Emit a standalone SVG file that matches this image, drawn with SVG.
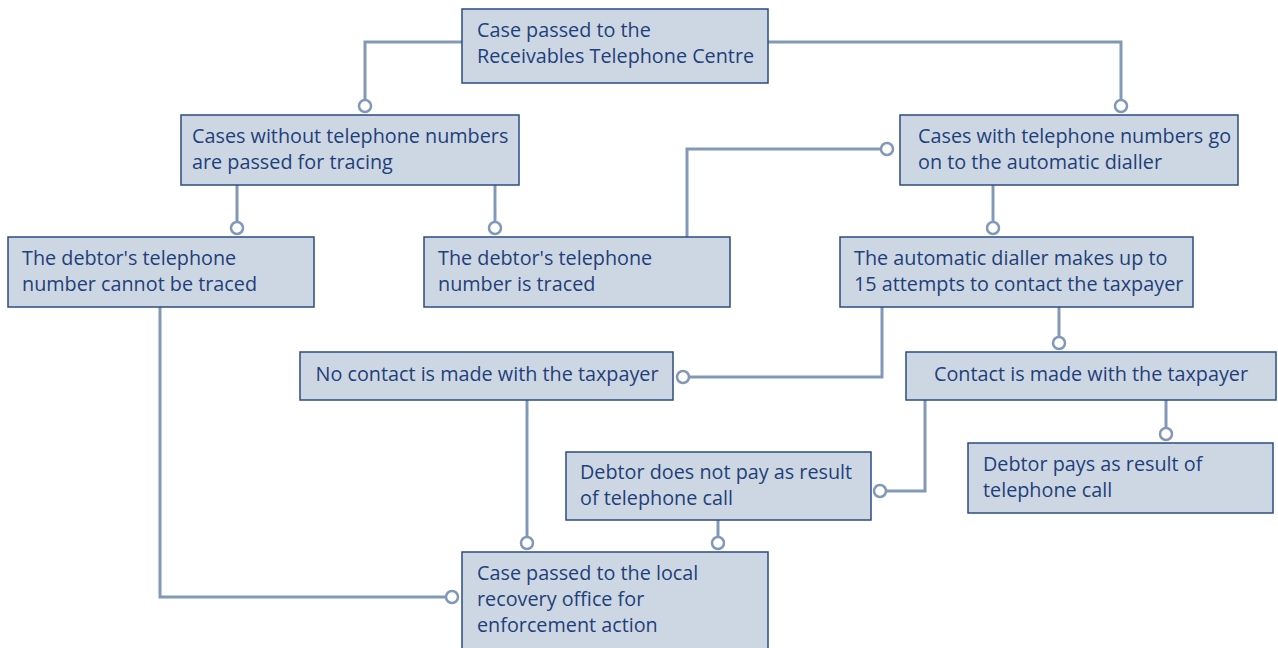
<svg xmlns="http://www.w3.org/2000/svg" width="1278" height="648" viewBox="0 0 1278 648">
<style>
.box{fill:#cdd7e3;stroke:#2c4b82;stroke-width:1.5}
.t{font-family:"Open Sans","Liberation Sans",Arial,sans-serif;font-size:19.8px;fill:#1f3f7a}
.c{text-anchor:middle}
.ln{fill:none;stroke:#8298b8;stroke-width:3}
.dot{fill:#ffffff;stroke:#8298b8;stroke-width:2.5}
</style>
<rect width="1278" height="648" fill="#ffffff"/>
<g id="connectors">
<polyline class="ln" points="462,42 365,42 365,100"/>
<polyline class="ln" points="768,42 1121,42 1121,100"/>
<polyline class="ln" points="237,185 237,222"/>
<polyline class="ln" points="495,185 495,222"/>
<polyline class="ln" points="687,237 687,149 881,149"/>
<polyline class="ln" points="993,185 993,222"/>
<polyline class="ln" points="882,307 882,377 689,377"/>
<polyline class="ln" points="1059,307 1059,337"/>
<polyline class="ln" points="925,400 925,491 886,491"/>
<polyline class="ln" points="1166,400 1166,428"/>
<polyline class="ln" points="527,400 527,537"/>
<polyline class="ln" points="718,520 718,537"/>
<polyline class="ln" points="160,307 160,597 446,597"/>
<circle class="dot" cx="365" cy="106" r="6"/>
<circle class="dot" cx="1121" cy="106" r="6"/>
<circle class="dot" cx="237" cy="228" r="6"/>
<circle class="dot" cx="495" cy="228" r="6"/>
<circle class="dot" cx="887" cy="149" r="6"/>
<circle class="dot" cx="993" cy="228" r="6"/>
<circle class="dot" cx="683" cy="377" r="6"/>
<circle class="dot" cx="1059" cy="343" r="6"/>
<circle class="dot" cx="880" cy="491" r="6"/>
<circle class="dot" cx="1166" cy="434" r="6"/>
<circle class="dot" cx="527" cy="543" r="6"/>
<circle class="dot" cx="718" cy="543" r="6"/>
<circle class="dot" cx="452" cy="597" r="6"/>
</g>
<g id="n1"><rect class="box" x="462" y="9" width="306" height="74"/><text class="t" x="477" y="37">Case passed to the</text><text class="t" x="477" y="63">Receivables Telephone Centre</text></g>
<g id="n2"><rect class="box" x="181" y="115" width="338" height="70"/><text class="t" x="192" y="143">Cases without telephone numbers</text><text class="t" x="192" y="169">are passed for tracing</text></g>
<g id="n3"><rect class="box" x="900" y="115" width="338" height="70"/><text class="t" x="918" y="143">Cases with telephone numbers go</text><text class="t" x="918" y="169">on to the automatic dialler</text></g>
<g id="n4"><rect class="box" x="8" y="237" width="306" height="70"/><text class="t" x="22" y="265">The debtor's telephone</text><text class="t" x="22" y="291">number cannot be traced</text></g>
<g id="n5"><rect class="box" x="424" y="237" width="306" height="70"/><text class="t" x="438" y="265">The debtor's telephone</text><text class="t" x="438" y="291">number is traced</text></g>
<g id="n6"><rect class="box" x="840" y="237" width="353" height="70"/><text class="t" x="854" y="265">The automatic dialler makes up to</text><text class="t" x="854" y="291">15 attempts to contact the taxpayer</text></g>
<g id="n7"><rect class="box" x="300" y="352" width="373" height="48"/><text class="t c" x="487" y="381">No contact is made with the taxpayer</text></g>
<g id="n8"><rect class="box" x="906" y="352" width="370" height="48"/><text class="t c" x="1091" y="381">Contact is made with the taxpayer</text></g>
<g id="n9"><rect class="box" x="566" y="452" width="305" height="68"/><text class="t" x="580" y="479">Debtor does not pay as result</text><text class="t" x="580" y="505">of telephone call</text></g>
<g id="n10"><rect class="box" x="968" y="443" width="305" height="70"/><text class="t" x="983" y="471">Debtor pays as result of</text><text class="t" x="983" y="497">telephone call</text></g>
<g id="n11"><rect class="box" x="462" y="552" width="306" height="100"/><text class="t" x="477" y="580">Case passed to the local</text><text class="t" x="477" y="606">recovery office for</text><text class="t" x="477" y="632">enforcement action</text></g>
</svg>
